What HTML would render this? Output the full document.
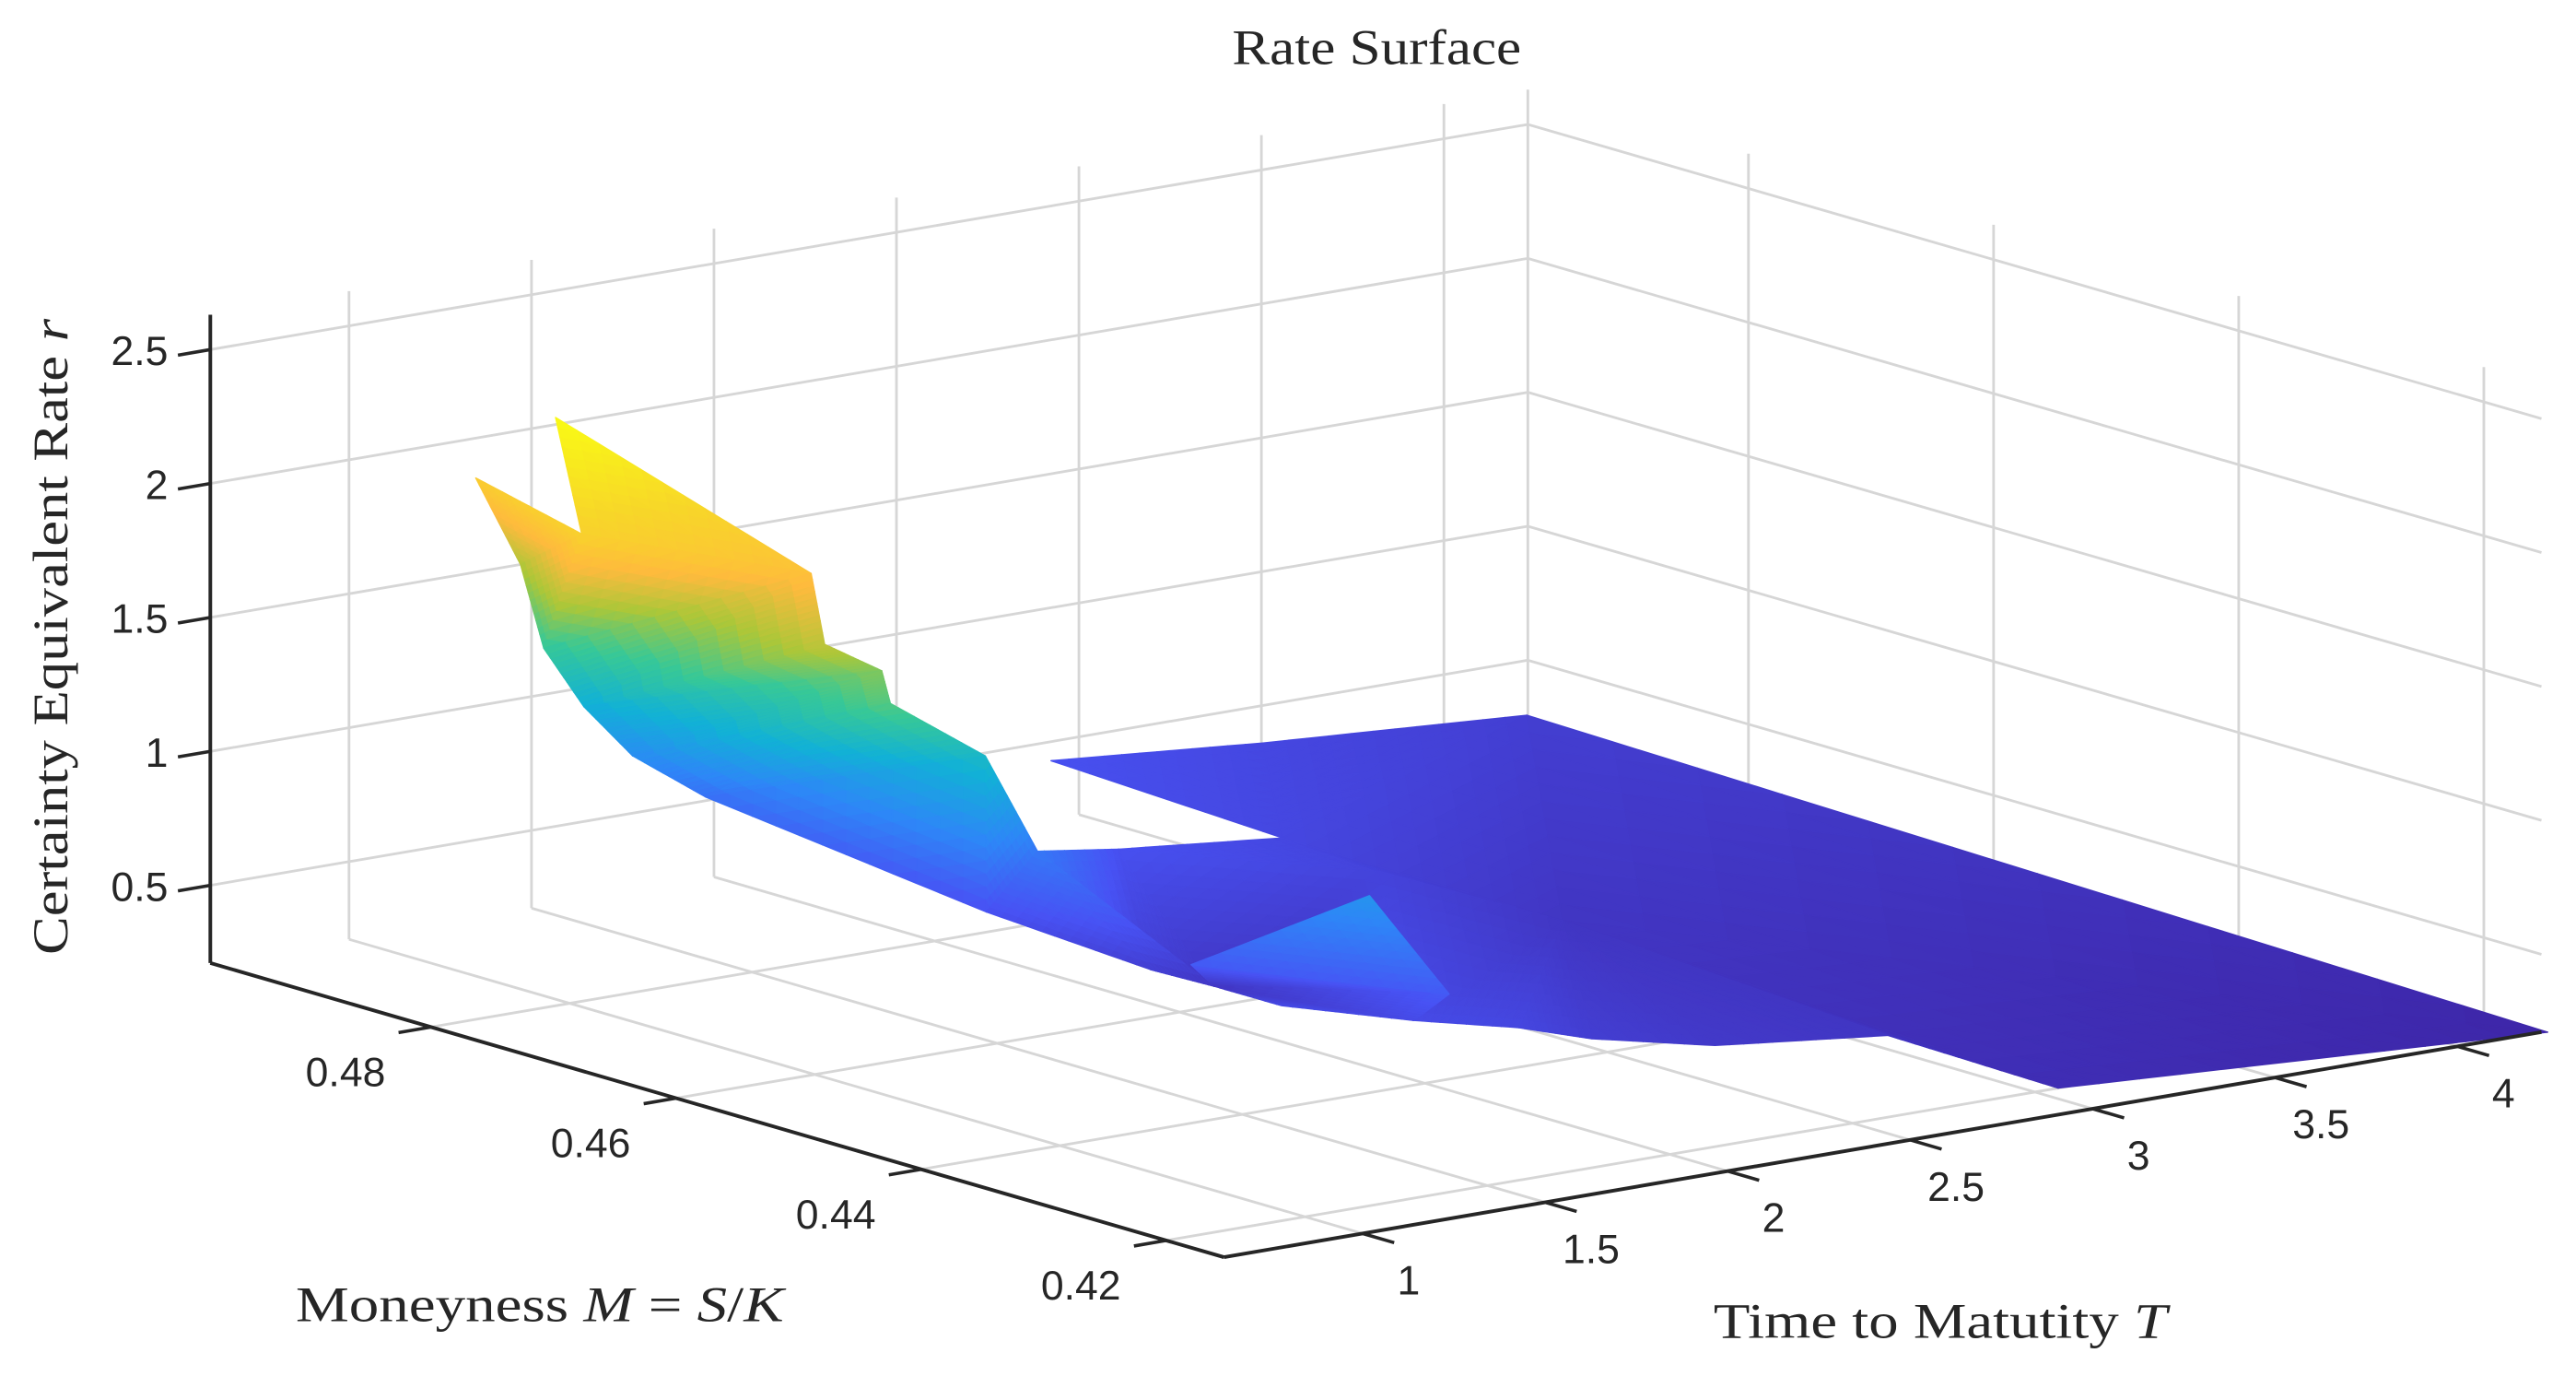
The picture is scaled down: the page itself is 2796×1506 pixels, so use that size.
<!DOCTYPE html>
<html><head><meta charset="utf-8"><style>
html,body{margin:0;padding:0;background:#fff;}
svg{display:block;}
.tick{font-family:"Liberation Sans",sans-serif;font-size:25px;fill:#262626;}
.lbl{font-family:"Liberation Serif",serif;font-size:30px;fill:#262626;}
</style></head><body>
<svg id="chart" width="2796" height="1506" viewBox="0 0 1568 844.6" xmlns="http://www.w3.org/2000/svg">
<g id="grid"></g>
<g id="surf"></g>
<g id="axes"></g>
<text class="lbl" x="750" y="39" textLength="176" lengthAdjust="spacingAndGlyphs">Rate Surface</text>
<text class="lbl" transform="translate(41,581) rotate(-90)" textLength="387" lengthAdjust="spacingAndGlyphs">Certainty Equivalent Rate <tspan font-style="italic">r</tspan></text>
<text class="lbl" x="180" y="804" textLength="297" lengthAdjust="spacingAndGlyphs">Moneyness <tspan font-style="italic">M</tspan> = <tspan font-style="italic">S</tspan>/<tspan font-style="italic">K</tspan></text>
<text class="lbl" x="1043" y="814" textLength="276" lengthAdjust="spacingAndGlyphs">Time to Matutity <tspan font-style="italic">T</tspan></text>
</svg>
<script>
// axis limits and ticks
const tLim = [0.62, 4.23];
const mLim = [0.4153, 0.498];
const zLim = [0.21, 2.63];
const tTicks = [1, 1.5, 2, 2.5, 3, 3.5, 4];
const tTickLabels = ["1", "1.5", "2", "2.5", "3", "3.5", "4"];
const mTicks = [0.48, 0.46, 0.44, 0.42];
const mTickLabels = ["0.48", "0.46", "0.44", "0.42"];
const zTicks = [0.5, 1, 1.5, 2, 2.5];
const zTickLabels = ["0.5", "1", "1.5", "2", "2.5"];
// surface vertices (time, moneyness, rate)
const vT = [1.27,1.47,1.49,1.61,1.72,1.84,1.88,1.98,2.07,1.04,1.21,1.44,1.44,1.62,1.60,1.85,2.01,2.48,2.91,2.89,3.44,4.14,4.24,3.00,2.94,2.55,2.33,2.19,2.02,1.88,2.08,3.06,2.91,1.84,2.11];
const vM = [0.4957,0.498,0.4967,0.4970,0.4963,0.4939,0.4722,0.4618,0.4593,0.4802,0.4874,0.4734,0.4723,0.4730,0.4717,0.4714,0.4719,0.4793,0.4787,0.4970,0.4961,0.4954,0.4151,0.4181,0.4302,0.4327,0.4362,0.4380,0.4415,0.4481,0.4469,0.4603,0.4709,0.4543,0.4413];
const vR = [1.9,1.5,1.2,0.95,0.75,0.6,0.45,0.35,0.3,1.95,2.25,1.8,1.55,1.4,1.3,1.05,0.65,0.45,0.4,0.45,0.4,0.35,0.21,0.25,0.3,0.32,0.35,0.4,0.42,0.42,0.8,0.3,0.38,0.5,0.5];
// faces in drawing order (far to near)
const faces = [
[18,19,20],[18,20,21],[18,21,31],[31,21,22],[31,22,23],[31,23,24],[31,24,25],[31,25,26],[31,26,27],[31,27,28],
[16,17,7],[7,17,8],[8,17,32],[17,18,32],[18,31,32],[32,31,28],[8,32,28],[8,28,29],
[0,9,1],[9,1,2],[9,10,11],[9,11,2],[11,2,3],[11,12,3],[12,13,3],[13,3,4],[13,14,4],[14,4,5],[14,15,5],[15,5,6],[15,16,6],[16,6,7],[16,7,8],
[8,33,34],[8,34,28],[33,30,34]];

const NS = "http://www.w3.org/2000/svg";
const A = [128,586], BA = [617,179], DA = [802,-137], ZS = 163;
function uOf(M){return (mLim[1]-M)/(mLim[1]-mLim[0]);}
function vOf(T){return (T-tLim[0])/(tLim[1]-tLim[0]);}
function proj(T,M,z){const u=uOf(M),v=vOf(T);return [A[0]+u*BA[0]+v*DA[0], A[1]+u*BA[1]+v*DA[1]-(z-zLim[0])*ZS];}
function line(g,p,q,stroke,w){const l=document.createElementNS(NS,"line");l.setAttribute("x1",p[0]);l.setAttribute("y1",p[1]);l.setAttribute("x2",q[0]);l.setAttribute("y2",q[1]);l.setAttribute("stroke",stroke);l.setAttribute("stroke-width",w);g.appendChild(l);return l;}
function text(g,x,y,s,anchor){const t=document.createElementNS(NS,"text");t.setAttribute("x",x);t.setAttribute("y",y);t.setAttribute("class","tick");t.setAttribute("text-anchor",anchor);t.textContent=s;g.appendChild(t);return t;}

const grid=document.getElementById("grid"), GC="#d6d6d6";
tTicks.forEach(T=>{
  let l=line(grid,proj(T,mLim[1],zLim[0]),proj(T,mLim[1],zLim[1]),GC,1.6);
  
  
  l=line(grid,proj(T,mLim[0],zLim[0]),proj(T,mLim[1],zLim[0]),GC,1.6);
  
  
});
mTicks.forEach(M=>{
  let l=line(grid,proj(tLim[1],M,zLim[0]),proj(tLim[1],M,zLim[1]),GC,1.6);
  
  
  l=line(grid,proj(tLim[0],M,zLim[0]),proj(tLim[1],M,zLim[0]),GC,1.6);
  
  
});
zTicks.forEach(z=>{
  let l=line(grid,proj(tLim[0],mLim[1],z),proj(tLim[1],mLim[1],z),GC,1.6);
  
  
  l=line(grid,proj(tLim[1],mLim[1],z),proj(tLim[1],mLim[0],z),GC,1.6);
  
  
});
{let l=line(grid,proj(tLim[1],mLim[1],zLim[0]),proj(tLim[1],mLim[1],zLim[1]),GC,1.6);

}

// parula colormap
const PAR=[[0.2422,0.1504,0.6603],[0.2810,0.3228,0.9579],[0.1786,0.5289,0.9682],[0.0689,0.6948,0.8394],[0.2161,0.7843,0.5923],[0.6720,0.7793,0.2227],[0.9970,0.7310,0.2400],[0.9700,0.8400,0.1600],[0.9769,0.9839,0.0805]];
const cmin=Math.min(...vR), cmax=Math.max(...vR);
function color(z){let t=(z-cmin)/(cmax-cmin);t=Math.max(0,Math.min(1,t))*(PAR.length-1);const i=Math.min(PAR.length-2,Math.floor(t)),f=t-i;const c=PAR[i].map((a,k)=>Math.round(255*(a+(PAR[i+1][k]-a)*f)));return `rgb(${c[0]},${c[1]},${c[2]})`;}

const surf=document.getElementById("surf");
const N=12;
faces.forEach(f=>{
  const P=f.map(k=>({T:vT[k],M:vM[k],z:vR[k]}));
  const g=document.createElementNS(NS,"g");
  
  
  function pt(a,b){const c=N-a-b;const w=[a/N,b/N,c/N];return {T:w[0]*P[0].T+w[1]*P[1].T+w[2]*P[2].T,M:w[0]*P[0].M+w[1]*P[1].M+w[2]*P[2].M,z:w[0]*P[0].z+w[1]*P[1].z+w[2]*P[2].z};}
  function tri(q){const s=q.map(p=>proj(p.T,p.M,p.z));const z=(q[0].z+q[1].z+q[2].z)/3;const pg=document.createElementNS(NS,"polygon");pg.setAttribute("points",s.map(p=>p[0].toFixed(2)+","+p[1].toFixed(2)).join(" "));const c=color(z);pg.setAttribute("fill",c);pg.setAttribute("stroke",c);pg.setAttribute("stroke-width","0.8");pg.setAttribute("stroke-linejoin","round");g.appendChild(pg);}
  for(let a=0;a<N;a++)for(let b=0;b<N-a;b++){
    tri([pt(a,b),pt(a+1,b),pt(a,b+1)]);
    if(a+b<N-1)tri([pt(a+1,b),pt(a+1,b+1),pt(a,b+1)]);
  }
  surf.appendChild(g);
});

// axes
const axes=document.getElementById("axes"), AC="#262626";
{let l=line(axes,proj(tLim[0],mLim[1],zLim[0]),proj(tLim[0],mLim[1],zLim[1]),AC,2.2);


l=line(axes,proj(tLim[0],mLim[1],zLim[0]),proj(tLim[0],mLim[0],zLim[0]),AC,2.2);


l=line(axes,proj(tLim[0],mLim[0],zLim[0]),proj(tLim[1],mLim[0],zLim[0]),AC,2.2);

}
const dl=Math.hypot(DA[0],DA[1]), bl=Math.hypot(BA[0],BA[1]);
zTicks.forEach((z,i)=>{
  const p=proj(tLim[0],mLim[1],z);
  const q=[p[0]-DA[0]/dl*20,p[1]-DA[1]/dl*20];
  const l=line(axes,p,q,AC,2);
  
  
  const t=text(axes,q[0]-6,q[1]+6,zTickLabels[i],"end");
  
  
});
mTicks.forEach((M,i)=>{
  const p=proj(tLim[0],M,zLim[0]);
  const q=[p[0]-DA[0]/dl*20,p[1]-DA[1]/dl*20];
  const l=line(axes,p,q,AC,2);
  
  
  const t=text(axes,p[0]-52,p[1]+36,mTickLabels[i],"middle");
  
  
});
tTicks.forEach((T,i)=>{
  const p=proj(T,mLim[0],zLim[0]);
  const q=[p[0]+BA[0]/bl*20,p[1]+BA[1]/bl*20];
  const l=line(axes,p,q,AC,2);
  
  
  const t=text(axes,p[0]+28,p[1]+37,tTickLabels[i],"middle");
  
  
});
</script>
</body></html>
